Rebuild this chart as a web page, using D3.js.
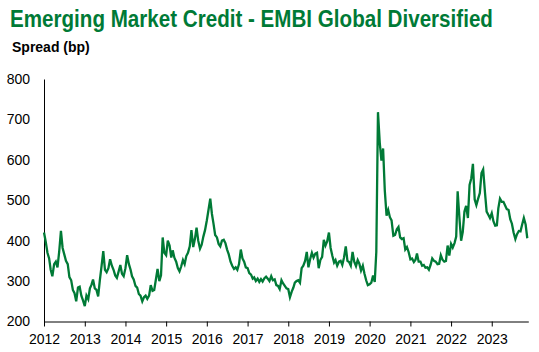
<!DOCTYPE html>
<html>
<head>
<meta charset="utf-8">
<script src="https://cdn.jsdelivr.net/npm/d3@7"></script>
<style>
  body { margin: 0; background: #fff; }
  svg text { font-family: "Liberation Sans", Arial, sans-serif; }
</style>
</head>
<body>
<div id="chart"></div>
<script>
// spread (bp), read twice a month (1st and 16th) off the chart
const spread2012 = [420, 398, 370, 356, 328, 312, 342, 348, 334, 372, 424, 382, 366, 350, 342, 310, 302, 278, 270, 250, 284, 286, 264, 252];
const spread2013 = [238, 264, 255, 282, 290, 304, 282, 278, 262, 302, 338, 374, 328, 322, 332, 354, 338, 328, 314, 308, 324, 340, 318, 312];
const spread2014 = [332, 364, 342, 328, 312, 304, 288, 284, 268, 264, 250, 260, 264, 256, 264, 290, 276, 278, 304, 330, 300, 314, 408, 370];
const spread2015 = [364, 400, 388, 358, 376, 358, 348, 332, 324, 336, 352, 342, 362, 370, 386, 426, 384, 404, 432, 400, 380, 390, 410, 426];
const spread2016 = [450, 476, 504, 466, 442, 414, 408, 392, 386, 400, 402, 394, 378, 366, 348, 338, 330, 334, 328, 342, 378, 356, 348, 334];
const spread2017 = [332, 320, 316, 306, 309, 300, 306, 298, 305, 299, 307, 311, 306, 300, 312, 302, 304, 290, 288, 280, 302, 294, 288, 282];
const spread2018 = [280, 260, 274, 284, 296, 300, 302, 296, 332, 338, 350, 372, 334, 354, 370, 358, 368, 370, 332, 352, 360, 402, 388, 398];
const spread2019 = [420, 382, 362, 346, 352, 338, 348, 350, 340, 358, 386, 350, 347, 338, 372, 348, 337, 352, 343, 326, 338, 318, 302, 290];
const spread2020 = [292, 296, 314, 298, 372, 718, 642, 598, 628, 525, 462, 476, 458, 450, 412, 414, 428, 434, 408, 404, 406, 378, 384, 372];
const spread2021 = [354, 356, 347, 353, 368, 348, 348, 338, 340, 333, 334, 328, 340, 356, 350, 348, 342, 343, 364, 353, 348, 350, 388, 363];
const spread2022 = [392, 383, 394, 410, 522, 460, 400, 422, 472, 486, 456, 538, 554, 590, 502, 488, 504, 518, 567, 576, 520, 472, 464, 456];
const spread2023 = [468, 448, 437, 438, 480, 504, 496, 496, 487, 478, 476, 453, 442, 420, 404, 416, 424, 423, 440, 456, 440, 406];

const years = [2012, 2013, 2014, 2015, 2016, 2017, 2018, 2019, 2020, 2021, 2022, 2023];
const yTicks = [200, 300, 400, 500, 600, 700, 800];

const title = "Emerging Market Credit - EMBI Global Diversified";
const subtitle = "Spread (bp)";

const byYear = [spread2012, spread2013, spread2014, spread2015, spread2016, spread2017,
                spread2018, spread2019, spread2020, spread2021, spread2022, spread2023];

// flatten into dated points
const data = [];
byYear.forEach((vals, k) => {
  vals.forEach((v, i) => {
    data.push({ date: new Date(years[k], Math.floor(i / 2), i % 2 ? 16 : 1), value: v });
  });
});

const width = 539, height = 352;
const green = "#007a36";

const svg = d3.select("#chart").append("svg")
  .attr("width", width)
  .attr("height", height);

const x = d3.scaleTime()
  .domain([new Date(2012, 0, 1), new Date(2023, 10, 25)])
  .range([44, 528.3]);

const y = d3.scaleLinear()
  .domain([200, 800])
  .range([321.5, 79]);

// title - font hẹp nên ép ngang cho vừa 483px
const titleText = svg.append("text")
  .attr("x", 0)
  .attr("y", 0)
  .style("font-size", "24px")
  .style("font-weight", "bold")
  .style("fill", green)
  .text(title);
const tw = titleText.node().getComputedTextLength();
titleText.attr("transform", `translate(10,27) scale(${483 / tw},1)`);

svg.append("text")
  .attr("x", 12)
  .attr("y", 51.7)
  .style("font-size", "14px")
  .style("font-weight", "bold")
  .style("fill", "#000")
  .text(subtitle);

// x axis
const gx = svg.append("g")
  .attr("transform", `translate(0,${y(200)})`)
  .call(d3.axisBottom(x)
    .tickValues(years.map(yr => new Date(yr, 0, 1)))
    .tickFormat(d3.timeFormat("%Y"))
    .tickSize(5)
    .tickSizeOuter(0)
    .tickPadding(8));
gx.select(".domain").attr("stroke", "#000");
gx.selectAll("text")
  .style("font-size", "14px")
  .style("fill", "#000");

// y axis: only the line and labels, no tick marks
const gy = svg.append("g")
  .attr("transform", `translate(${x(new Date(2012, 0, 1))},0)`)
  .call(d3.axisLeft(y)
    .tickValues(yTicks)
    .tickSize(0)
    .tickSizeOuter(0)
    .tickPadding(14));
gy.select(".domain").attr("stroke", "#000");
gy.selectAll("text")
  .style("font-size", "14px")
  .style("fill", "#000");

// line
const line = d3.line()
  .x(d => x(d.date))
  .y(d => y(d.value));

svg.append("path")
  .datum(data)
  .attr("fill", "none")
  .attr("stroke", green)
  .attr("stroke-width", 2.3)
  .attr("d", line);
</script>
</body>
</html>
